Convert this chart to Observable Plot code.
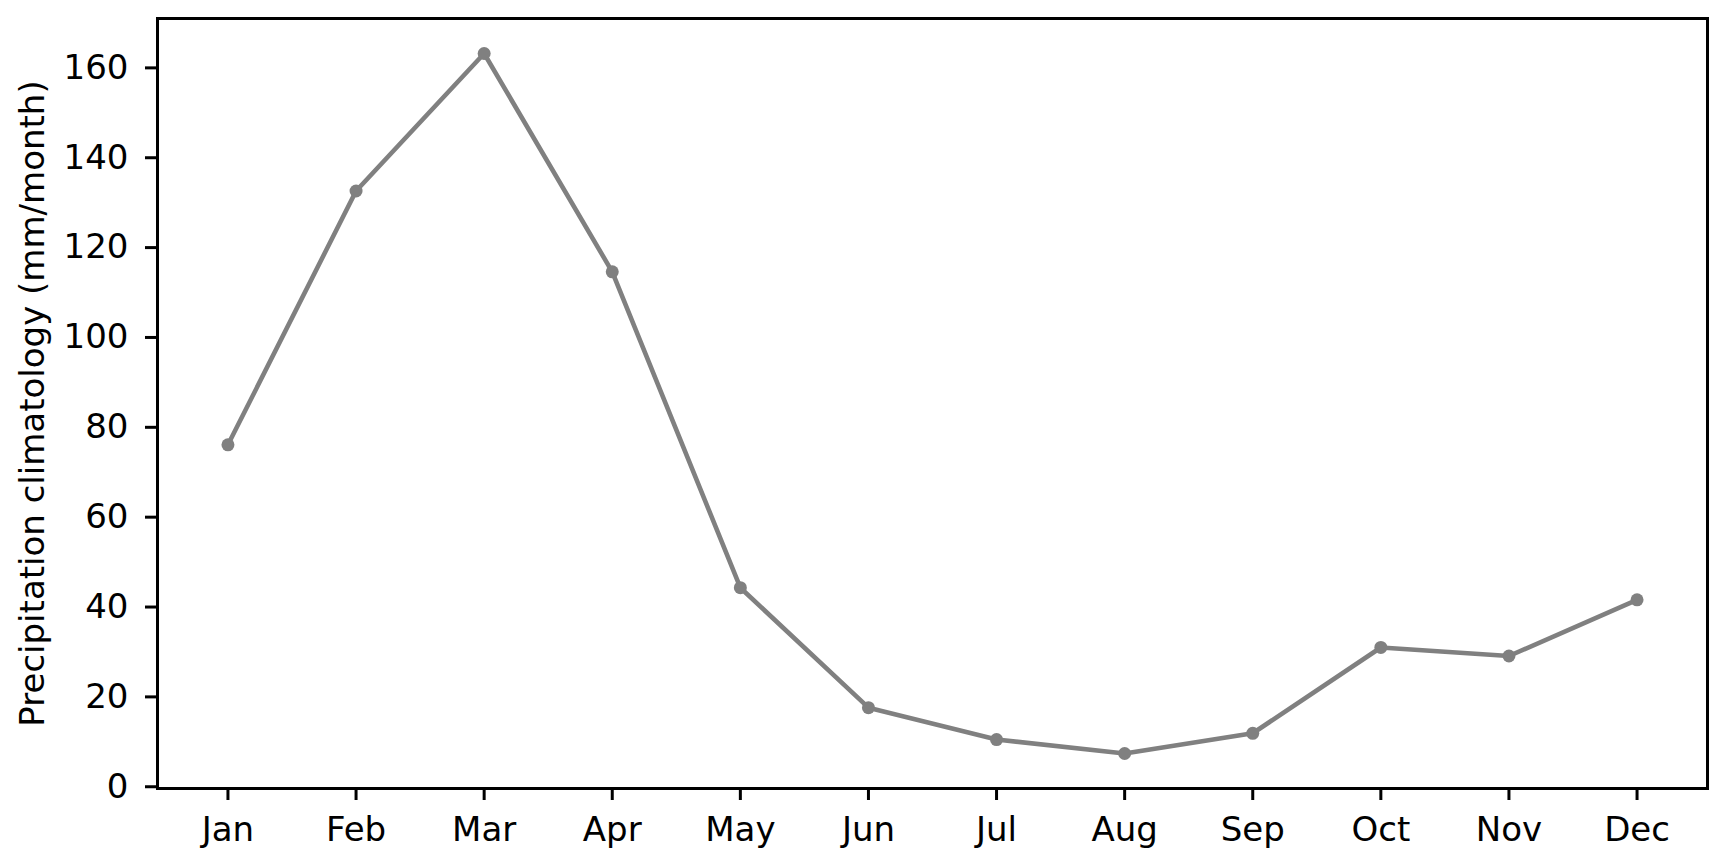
<!DOCTYPE html>
<html>
<head>
<meta charset="utf-8">
<script src="https://cdn.jsdelivr.net/npm/d3@7"></script>
<script src="https://cdn.jsdelivr.net/npm/@observablehq/plot@0.6"></script>
<style>
  body { margin: 0; background: white; }
</style>
</head>
<body>
<div id="chart"></div>
<script>
// monthly precipitation climatology
const months = ["Jan", "Feb", "Mar", "Apr", "May", "Jun", "Jul", "Aug", "Sep", "Oct", "Nov", "Dec"];
const precip = [76.1, 132.6, 163.2, 114.6, 44.3, 17.6, 10.5, 7.4, 11.9, 31.0, 29.1, 41.6];
const yTicks = [0, 20, 40, 60, 80, 100, 120, 140, 160];
const yLabel = "Precipitation climatology (mm/month)";

const data = months.map((m, i) => ({i, month: m, value: precip[i]}));

// matplotlib style 5% padding around the data
const [lo, hi] = d3.extent(precip);
const ypad = (hi - lo) * 0.05;
const xpad = (months.length - 1) * 0.05;

const gray = "#808080";

const chart = Plot.plot({
  width: 1730,
  height: 866,
  marginLeft: 157,
  marginRight: 23,
  marginTop: 18,
  marginBottom: 78,
  style: {fontFamily: "DejaVu Sans", fontSize: "34px", background: "white", color: "black"},
  x: {domain: [-xpad, months.length - 1 + xpad]},
  y: {domain: [lo - ypad, hi + ypad]},
  marks: [
    // line with dots
    Plot.line(data, {x: "i", y: "value", stroke: gray, strokeWidth: 4.6}),
    Plot.dot(data, {x: "i", y: "value", fill: gray, r: 6.5}),

    // axes
    Plot.axisX({
      ticks: months.map((_, i) => i),
      tickFormat: (i) => months[i],
      tickSize: 12,
      tickPadding: 16,
      strokeWidth: 3,
      fontSize: 34,
      label: null
    }),
    Plot.axisY({
      ticks: yTicks,
      tickSize: 12,
      tickPadding: 17,
      strokeWidth: 3,
      fontSize: 34,
      label: null
    }),

    // y axis title
    Plot.text([yLabel], {
      frameAnchor: "left",
      text: (d) => d,
      rotate: -90,
      dx: -124,
      fontSize: 34,
      textAnchor: "middle",
      lineAnchor: "middle",
      fill: "black"
    }),

    Plot.frame({stroke: "black", strokeWidth: 3})
  ]
});

document.getElementById("chart").append(chart);
</script>
</body>
</html>
